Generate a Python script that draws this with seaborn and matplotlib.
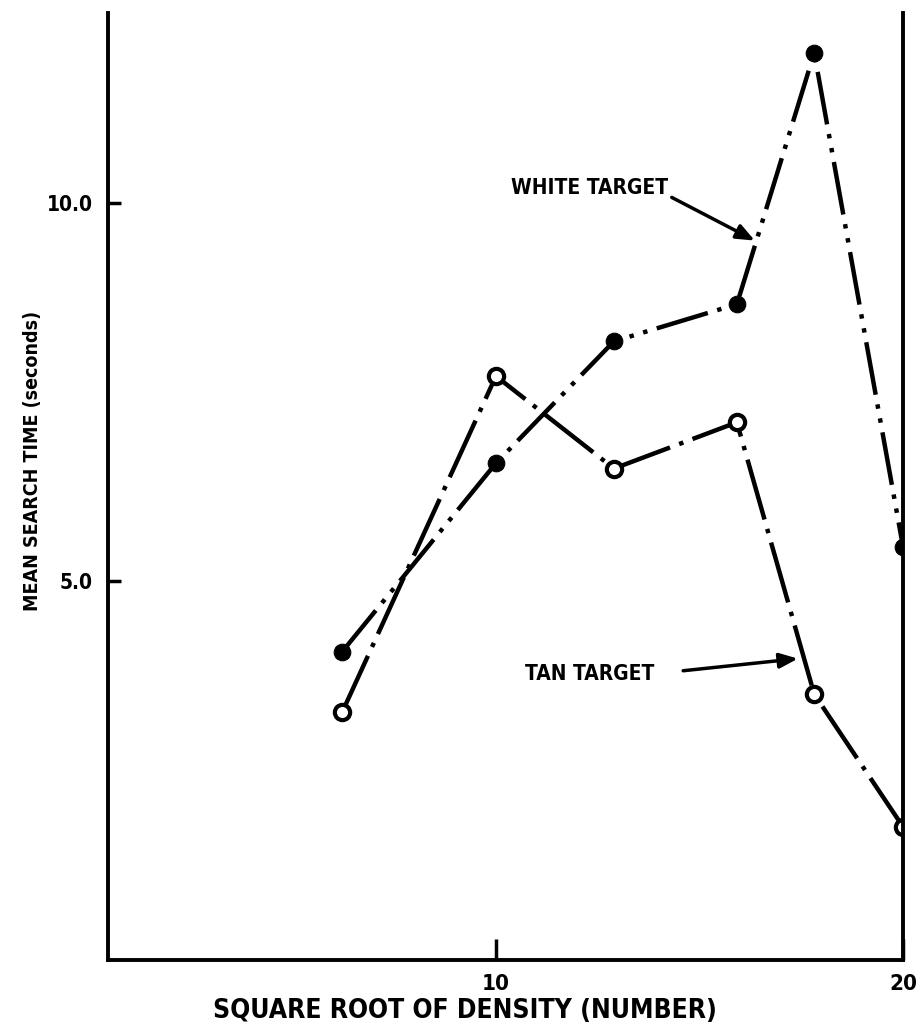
import numpy as np
import pandas as pd
import matplotlib
matplotlib.use('Agg')
import matplotlib.pyplot as plt
import seaborn as sns

# values
sqrt_density = [6.22, 10.0, 12.9, 15.92, 17.82, 20.0]
white_time = [4.07, 6.56, 8.17, 8.66, 11.98, 5.46]
tan_time = [3.27, 7.71, 6.49, 7.10, 3.51, 1.76]
x_ticks = [10, 20]
y_ticks = [5.0, 10.0]

sns.set_style('ticks')
plt.rcParams['font.family'] = ['DejaVu Sans']
plt.rcParams['font.stretch'] = 'condensed'
plt.rcParams['font.weight'] = 'bold'
for key in ['text.color', 'axes.labelcolor', 'xtick.color', 'ytick.color']:
    plt.rcParams[key] = 'black'

df = pd.DataFrame({'x': sqrt_density, 'white': white_time, 'tan': tan_time})

fig = plt.figure(figsize=(9.17, 10.29), dpi=100)
ax = fig.add_axes([0.1178, 0.067, 0.8669, 0.92])

# white target: filled markers, long dash + two dots
sns.lineplot(data=df, x='x', y='white', ax=ax, color='black', lw=3.2,
             marker='o', sort=False)
wl = ax.lines[-1]
wl.set_linestyle((0, (12, 2.2, 1, 2.2, 1, 2.2)))
wl.set_markersize(12)
wl.set_markerfacecolor('black')
wl.set_markeredgecolor('black')

# tan target: open markers, long dash + one dot
sns.lineplot(data=df, x='x', y='tan', ax=ax, color='black', lw=3.2,
             marker='o', sort=False)
tl = ax.lines[-1]
tl.set_linestyle((0, (14, 2.2, 1, 2.2)))
tl.set_markersize(11)
tl.set_markerfacecolor('white')
tl.set_markeredgecolor('black')
tl.set_markeredgewidth(3)

ax.set_xlim(0.47, 20)
ax.set_ylim(0, 12.5)
ax.set_xticks(x_ticks)
ax.set_xticklabels([str(t) for t in x_ticks])
ax.set_yticks(y_ticks)
ax.set_yticklabels([f'{t:.1f}' for t in y_ticks])
ax.tick_params(axis='x', direction='in', length=15, width=2.5, labelsize=16, pad=10)
ax.tick_params(axis='y', direction='in', length=9, width=2.5, labelsize=15, pad=11)

for side in ['left', 'bottom', 'right']:
    ax.spines[side].set_linewidth(2.8)
    ax.spines[side].set_color('black')
ax.spines['top'].set_visible(False)

ax.set_xlabel('SQUARE ROOT OF DENSITY (NUMBER)', fontsize=19, fontweight='bold')
ax.xaxis.set_label_coords(0.449, -0.040)
ax.set_ylabel('MEAN SEARCH TIME (seconds)', fontsize=14, fontweight='bold')
ax.yaxis.set_label_coords(-0.083, 0.527)

arrow = dict(arrowstyle='-|>,head_length=1.1,head_width=0.45', color='black', lw=2.5,
             shrinkA=0, shrinkB=0)
ax.annotate('', xy=(16.36, 9.5), xytext=(14.32, 10.07), arrowprops=arrow)
ax.text(12.31, 10.2, 'WHITE TARGET', fontsize=15, fontweight='bold', ha='center', va='center')
ax.annotate('', xy=(17.42, 3.98), xytext=(14.6, 3.82), arrowprops=arrow)
ax.text(12.31, 3.78, 'TAN TARGET', fontsize=15, fontweight='bold', ha='center', va='center')

fig.savefig('out.png', dpi=100)
